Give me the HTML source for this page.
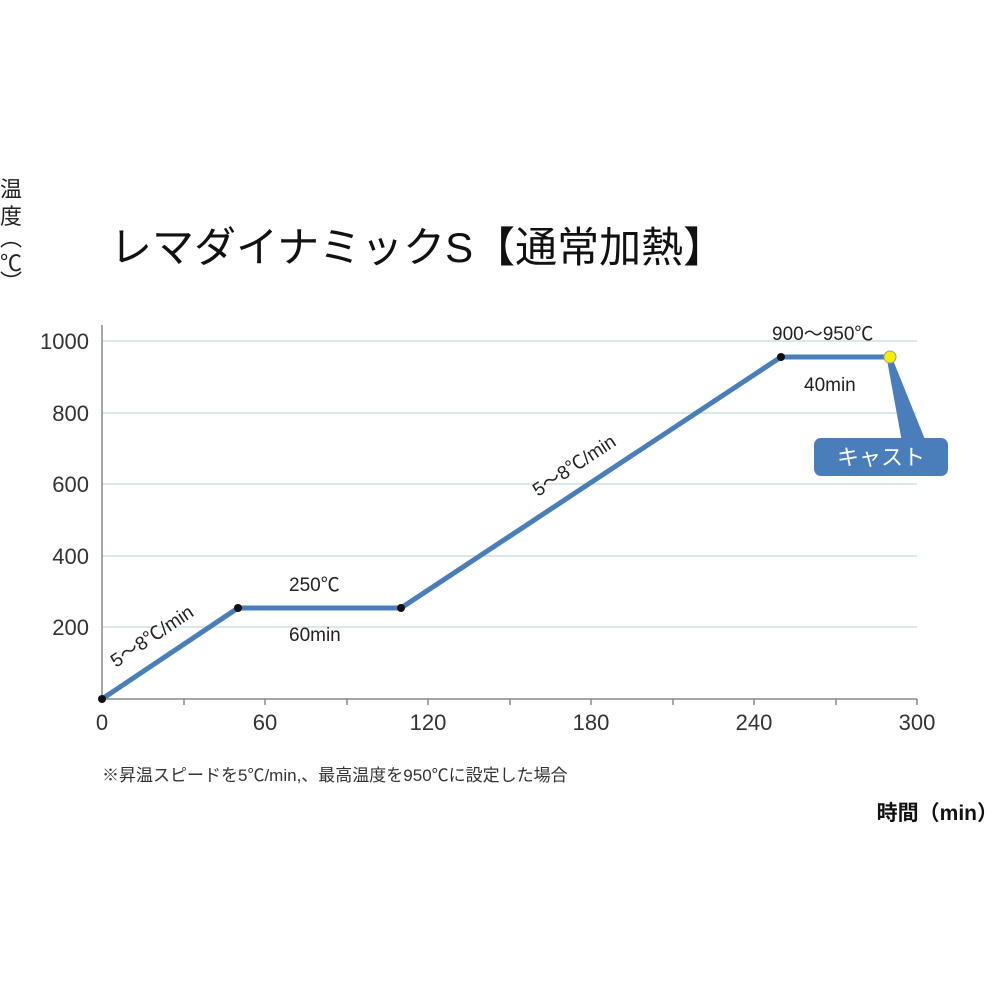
<!DOCTYPE html>
<html><head><meta charset="utf-8"><style>
html,body{margin:0;padding:0;background:#fff;}
svg{display:block;font-family:"Liberation Sans","Noto Sans CJK JP",sans-serif;}
</style></head><body>
<svg width="1000" height="1000" viewBox="0 0 1000 1000" xmlns="http://www.w3.org/2000/svg">
<rect width="1000" height="1000" fill="#fff"/>
<g font-size="22" fill="#222">
<text x="0" y="197">温</text>
<text x="0" y="224">度</text>
<text x="0" y="246">︵</text>
<text x="0" y="271">℃</text>
<text x="0" y="290">︶</text>
</g>
<text x="110" y="262" font-size="42" fill="#111">レマダイナミックS【通常加熱】</text>
<g stroke="#cfe0e4" stroke-width="1.5">
<line x1="102" y1="341" x2="917" y2="341"/>
<line x1="102" y1="413" x2="917" y2="413"/>
<line x1="102" y1="484" x2="917" y2="484"/>
<line x1="102" y1="556" x2="917" y2="556"/>
<line x1="102" y1="627" x2="917" y2="627"/>
</g>
<g stroke="#888" stroke-width="1.5">
<line x1="102" y1="325" x2="102" y2="700"/>
<line x1="102" y1="699" x2="917" y2="699"/>
<line x1="184" y1="699" x2="184" y2="705"/>
<line x1="265" y1="699" x2="265" y2="705"/>
<line x1="347" y1="699" x2="347" y2="705"/>
<line x1="428" y1="699" x2="428" y2="705"/>
<line x1="510" y1="699" x2="510" y2="705"/>
<line x1="591" y1="699" x2="591" y2="705"/>
<line x1="673" y1="699" x2="673" y2="705"/>
<line x1="754" y1="699" x2="754" y2="705"/>
<line x1="836" y1="699" x2="836" y2="705"/>
<line x1="917" y1="699" x2="917" y2="705"/>
</g>
<g font-size="22" fill="#333" text-anchor="end">
<text x="89" y="349">1000</text>
<text x="89" y="421">800</text>
<text x="89" y="492">600</text>
<text x="89" y="564">400</text>
<text x="89" y="635">200</text>
</g>
<g font-size="22" fill="#333" text-anchor="middle">
<text x="102" y="730">0</text>
<text x="265" y="730">60</text>
<text x="428" y="730">120</text>
<text x="591" y="730">180</text>
<text x="754" y="730">240</text>
<text x="917" y="730">300</text>
</g>
<polyline points="102,699 238,608 401,608 781,357 890,357" fill="none" stroke="#4a7ebb" stroke-width="5" stroke-linejoin="round"/>
<polygon points="887,360 893,360 926,442 902,442" fill="#4a7ebb"/>
<rect x="814" y="438" width="134" height="38" rx="7" fill="#4a7ebb"/>
<text x="881" y="465" font-size="22" fill="#fff" text-anchor="middle">キャスト</text>
<g fill="#111">
<circle cx="102" cy="699" r="4"/>
<circle cx="238" cy="608" r="4"/>
<circle cx="401" cy="608" r="4"/>
<circle cx="781" cy="357" r="4"/>
</g>
<circle cx="890" cy="357" r="6" fill="#f2f200" stroke="#999" stroke-width="1"/>
<g font-size="19" fill="#222">
<text x="116" y="668" transform="rotate(-33.8 116 668)">5～8℃/min</text>
<text x="289" y="591">250℃</text>
<text x="289" y="641">60min</text>
<text x="538" y="497" transform="rotate(-33.4 538 497)">5～8℃/min</text>
<text x="772" y="340">900～950℃</text>
<text x="804" y="391">40min</text>
</g>
<text x="102" y="781" font-size="17" fill="#333">※昇温スピードを5℃/min,、最高温度を950℃に設定した場合</text>
<text x="998" y="820" font-size="21" font-weight="bold" fill="#111" text-anchor="end">時間（min）</text>
</svg>
</body></html>
